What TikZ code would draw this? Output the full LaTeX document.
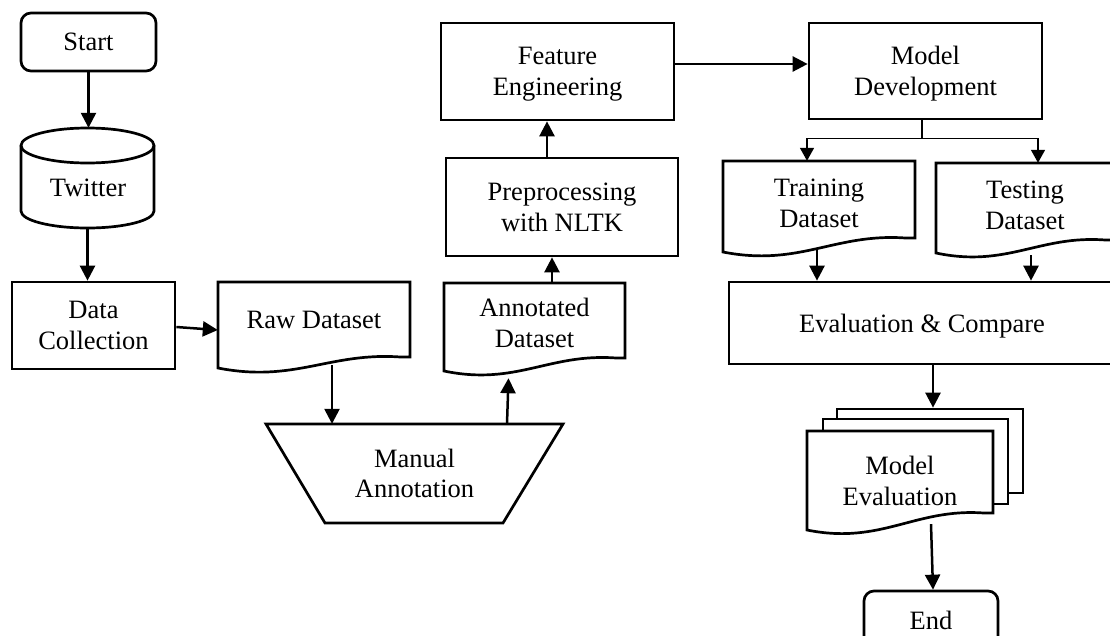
\documentclass[tikz,border=0pt]{standalone}
\usepackage{fontspec}
\setmainfont{Liberation Serif}
\usetikzlibrary{arrows.meta}
\tikzset{
  txt/.style={font=\fontsize{26.5}{30.5}\selectfont, align=center, inner sep=0pt, text depth=0pt},
  box/.style={txt, draw, line width=2.7pt},
  ghost/.style={txt},
  shp/.style={draw, line width=2.7pt, line join=miter},
  arr/.style={line width=2.5pt, -{Triangle[length=15pt,width=15pt]}},
  tarr/.style={line width=1.4pt, -{Triangle[length=13pt,width=14pt]}},
}
% document shape: left, top, right, y of bottom-left, y of bottom-right
\newcommand\mydoc[5]{%
  \draw[shp, fill=white] (#1,#2) -- (#3,#2) -- (#3,#5) -- ({#3-0.05*(#3-#1)},#5)
    .. controls ({#1+0.58*(#3-#1)},{#5-5}) and ({#1+0.4*(#3-#1)},{#4+15}) .. (#1,#4) -- cycle;}
\begin{document}
\begin{tikzpicture}[x=1pt,y=-1pt]
\useasboundingbox[fill=white] (0,0) rectangle (1110,635);

% Start
\node[box, rounded corners=10pt, minimum width=135pt, minimum height=58pt] (start) at (88.5,42) {Start};

% Twitter cylinder
\node[ghost, minimum width=133pt, minimum height=100pt] (twitter) at (87.5,178) {};
\draw[shp] (21,145.5) -- (21,211) .. controls (21,220.4) and (50.8,228) .. (87.5,228)
  .. controls (124.2,228) and (154,220.4) .. (154,211) -- (154,145.5);
\draw[shp] (87.5,145.5) ellipse [x radius=66.5pt, y radius=17.5pt];
\node[txt] (twtext) at (88,188) {Twitter};

% Data collection
\node[box, minimum width=163pt, minimum height=87pt] (dc) at (93.5,325.5) {Data\\Collection};

% Raw dataset
\mydoc{218}{282}{410}{368}{357}
\node[ghost, minimum width=192pt, minimum height=76pt] (raw) at (314,320) {Raw Dataset};

% Manual annotation
\draw[shp] (266,424) -- (563,424) -- (503,523) -- (325,523) -- cycle;
\node[ghost, minimum width=297pt, minimum height=99pt] (manual) at (414.5,473.5) {Manual\\Annotation};

% Annotated dataset
\mydoc{444}{283}{625}{371}{358}
\node[ghost, minimum width=181pt, minimum height=80pt] (annot) at (534.5,323) {Annotated\\Dataset};

% Preprocessing, Feature engineering, Model development
\node[box, minimum width=232pt, minimum height=98pt] (prep) at (562,207) {Preprocessing\\with NLTK};
\node[box, minimum width=233pt, minimum height=97pt] (fe) at (557.5,71.5) {Feature\\Engineering};
\node[box, minimum width=233pt, minimum height=96pt] (md) at (925.5,71) {Model\\Development};

% Training / testing
\mydoc{723}{161}{915}{252}{238}
\node[ghost, minimum width=192pt, minimum height=84pt] (train) at (819,203) {Training\\Dataset};
\mydoc{936}{163}{1114}{253}{240}
\node[ghost, minimum width=178pt, minimum height=84pt] (test) at (1025,205) {Testing\\Dataset};

% Evaluation
\node[box, minimum width=386pt, minimum height=82pt] (eval) at (922,323) {Evaluation \& Compare};

% Model evaluation (multi-document)
\node[box, fill=white, minimum width=186pt, minimum height=84pt] (mevback) at (930,451) {};
\node[box, fill=white, minimum width=185pt, minimum height=85pt] (mevmid) at (915.5,461.5) {};
\mydoc{807}{431}{993}{530}{513}
\node[ghost, minimum width=186pt, minimum height=100pt] (meval) at (900,481) {Model\\Evaluation};

% End
\node[box, rounded corners=10pt, minimum width=134pt, minimum height=58pt] (end) at (931,620) {End};

% Connectors
\draw[arr] (start.south) -- (start.south |- twitter.north);
\draw[arr] (twitter.south) -- (twitter.south |- dc.north);
\draw[arr] ([yshift=-1.5pt]dc.east) -- ([yshift=-10pt]raw.west);
\draw[arr] ([xshift=18pt,yshift=-7pt]raw.south) -- ([xshift=18pt]raw.south |- manual.north);
\draw[arr] ([xshift=92.5pt]manual.north) -- ([xshift=-26pt,yshift=-15pt]annot.south);
\draw[arr] ([xshift=17.5pt]annot.north) -- ([xshift=17.5pt]annot.north |- prep.south);
\draw[arr] ([xshift=-15pt]prep.north) -- ([xshift=-15pt]prep.north |- fe.south);
\draw[arr] ([yshift=7.5pt]fe.east) -- ([yshift=7.5pt]fe.east -| md.west);
\draw[tarr] ([xshift=-3.5pt]md.south) -- ++(0,18) -| ([xshift=-12pt]train.north);
\draw[tarr] ([xshift=-3.5pt]md.south) -- ++(0,18) -| ([xshift=13pt]test.north);
\draw[arr] ([xshift=-2pt,yshift=-3pt]train.south) -- ([xshift=-2pt]train.south |- eval.north);
\draw[arr] ([xshift=6pt,yshift=-8pt]test.south) -- ([xshift=6pt]test.south |- eval.north);
\draw[arr] ([xshift=11pt]eval.south) -- ([xshift=11pt]eval.south |- mevback.north);
\draw[arr] ([xshift=31pt,yshift=7pt]meval.south) -- ([xshift=2pt]end.north);
\end{tikzpicture}
\end{document}
